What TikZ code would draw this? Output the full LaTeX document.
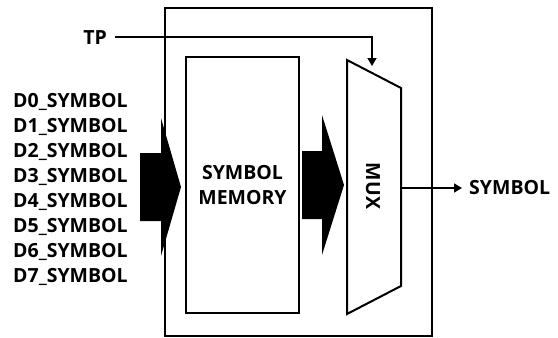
\documentclass[tikz,border=0pt]{standalone}
\usepackage{fontspec}
\setmainfont{Open Sans}
\usetikzlibrary{arrows.meta,positioning}

\begin{document}
\begin{tikzpicture}[x=1pt,y=-1pt,
    box/.style={draw, line width=2pt, inner sep=0pt},
    lbl/.style={font=\bfseries\fontsize{19.5}{25}\selectfont, inner sep=0pt},
    sig/.style={line width=1.5pt, -{Triangle[length=8pt,width=9pt]}}]
    \useasboundingbox (0,0) rectangle (558,338);

    % Chip
    \node[box, line width=2.5pt, minimum width=267pt, minimum height=328pt] (chip) at (298.5,172) {};

    % Symbol memory
    \node[box, lbl, minimum width=113pt, minimum height=256pt, align=center] (mem) at (242.5,185) {SYMBOL\\MEMORY};

    % Mux
    \coordinate (mux tl) at (347,60);
    \coordinate (mux tr) at (401,88);
    \coordinate (mux br) at (401,286);
    \coordinate (mux bl) at (347,314);
    \draw[line width=2pt, line join=miter] (mux tl) -- (mux tr) -- (mux br) -- (mux bl) -- cycle;
    \node[lbl, rotate=-90] (mux) at (373,186) {MUX};

    % Inputs
    \foreach \i in {0,...,7}
        \node[lbl, anchor=base west] (d\i) at (13,107+25*\i) {D\i\_SYMBOL};

    % Bus arrows
    \fill (140,153) -- (161,153) -- (161,118) -- (181,187) -- (161,256) -- (161,221) -- (140,221) -- cycle;
    \fill (302,151) -- (322,151) -- (322,115) -- (344,185) -- (322,255) -- (322,219) -- (302,219) -- cycle;

    % TP
    \node[lbl, anchor=base east] (tp) at (107,44) {TP};
    \coordinate (tp in) at (372,66);
    \draw[sig, shorten <=8pt] (tp.east) -| (tp in);

    % Output
    \node[lbl, anchor=west] (out) at (469,188) {SYMBOL};
    \coordinate (mux out) at (401,188);
    \draw[sig] (mux out) -- ([xshift=-7pt]out.west);
\end{tikzpicture}
\end{document}
